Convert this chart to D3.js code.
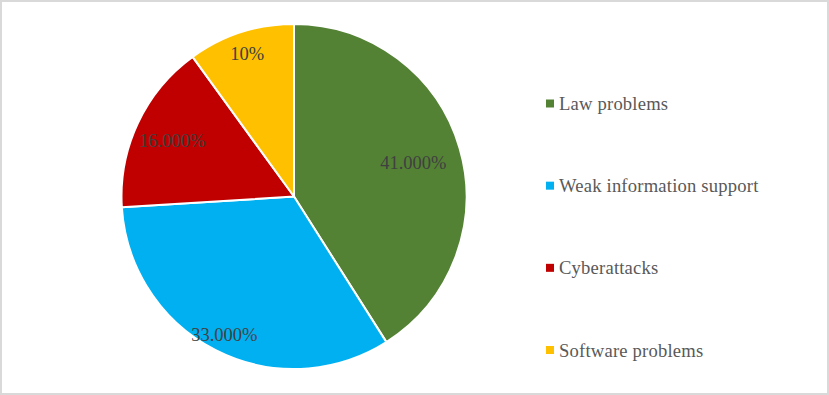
<!DOCTYPE html>
<html>
<head>
<meta charset="utf-8">
<script src="https://cdn.jsdelivr.net/npm/d3@7/dist/d3.min.js"></script>
<style>
  html, body { margin: 0; padding: 0; background: #fff; }
  svg { display: block; }
</style>
</head>
<body>
<svg id="chart" width="829" height="395"></svg>
<script>
// Data
const categories = ["Law problems", "Weak information support", "Cyberattacks", "Software problems"];
const values = [41, 33, 16, 10];
const valueLabels = ["41.000%", "33.000%", "16.000%", "10%"];
const colors = ["#548235", "#00b0f0", "#c00000", "#ffc000"];

// Layout
const W = 829, H = 395;
const cx = 294, cy = 196.5, R = 172.5;
const labelRadiusFactor = [0.72, 0.89, 0.78, 0.88];

const svg = d3.select("#chart");

svg.append("rect")
  .attr("x", 1).attr("y", 1)
  .attr("width", W - 2).attr("height", H - 2)
  .attr("fill", "#fff")
  .attr("stroke", "#d9d9d9")
  .attr("stroke-width", 2);

const pie = d3.pie().sort(null).value(d => d)(values);
const arc = d3.arc().innerRadius(0).outerRadius(R);

const g = svg.append("g").attr("transform", `translate(${cx},${cy})`);

g.selectAll("path.slice")
  .data(pie)
  .join("path")
  .attr("class", "slice")
  .attr("d", arc)
  .attr("fill", (d, i) => colors[i])
  .attr("stroke", "#ffffff")
  .attr("stroke-width", 2)
  .attr("stroke-linejoin", "round");

g.selectAll("text.lbl")
  .data(pie)
  .join("text")
  .attr("class", "lbl")
  .attr("transform", (d, i) => {
    const r = R * labelRadiusFactor[i];
    const c = d3.arc().innerRadius(r).outerRadius(r).centroid(d);
    return `translate(${c[0]},${c[1] + 1})`;
  })
  .attr("text-anchor", "middle")
  .attr("dy", "0.35em")
  .attr("font-family", "'Liberation Serif', 'Times New Roman', serif")
  .attr("font-size", "18.5px")
  .attr("fill", "#404040")
  .text((d, i) => valueLabels[i]);

// Legend
const legendY = d3.scalePoint().domain(categories).range([103.5, 350]);
const lg = svg.append("g");
const items = lg.selectAll("g.item")
  .data(categories)
  .join("g")
  .attr("class", "item")
  .attr("transform", d => `translate(546,${legendY(d)})`);

items.append("rect")
  .attr("x", 0).attr("y", -4)
  .attr("width", 8).attr("height", 8)
  .attr("fill", (d, i) => colors[i]);

items.append("text")
  .attr("x", 13)
  .attr("y", 0)
  .attr("dy", "0.35em")
  .attr("font-family", "'Liberation Serif', 'Times New Roman', serif")
  .attr("font-size", "18.6px")
  .attr("letter-spacing", "0.2px")
  .attr("fill", "#595959")
  .text(d => d);
</script>
</body>
</html>
